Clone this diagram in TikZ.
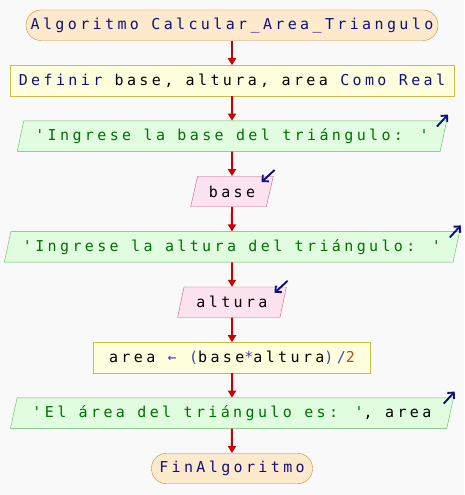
\documentclass[tikz,border=0pt]{standalone}
\usepackage{fontspec}
\newfontfamily\flowfont[LetterSpace=22.5]{DejaVu Sans Mono}
\usepackage{xcolor}
\definecolor{BgGray}{RGB}{249,249,249}
\definecolor{TermFill}{RGB}{253,234,204}
\definecolor{TermLine}{RGB}{200,136,48}
\definecolor{ProcFill}{RGB}{255,255,221}
\definecolor{ProcLine}{RGB}{200,192,64}
\definecolor{OutFill}{RGB}{224,253,224}
\definecolor{OutLine}{RGB}{92,184,92}
\definecolor{InFill}{RGB}{253,226,239}
\definecolor{InLine}{RGB}{192,96,136}
\definecolor{FlowRed}{RGB}{204,0,0}
\definecolor{KwBlue}{RGB}{16,16,128}
\definecolor{StrGreen}{RGB}{0,112,0}
\definecolor{OpBlue}{RGB}{64,64,192}
\definecolor{NumBrown}{RGB}{168,84,40}
\usetikzlibrary{positioning}
\usetikzlibrary{shapes.geometric}
\usetikzlibrary{arrows.meta}

\newcommand{\kw}[1]{\textcolor{KwBlue}{#1}}
\newcommand{\lit}[1]{\textcolor{StrGreen}{#1}}
\newcommand{\op}[1]{\textcolor{OpBlue}{#1}}
\newcommand{\nm}[1]{\textcolor{NumBrown}{#1}}

\begin{document}
\begin{tikzpicture}[
      , x=1pt, y=1pt
      , font=\flowfont\fontsize{15}{18}\selectfont
      , block/.style={draw, thin, minimum height=30.5pt, inner sep=0pt}
      , terminal/.style={block, rectangle, rounded corners=15pt, fill=TermFill, draw=TermLine}
      , process/.style={block, rectangle, fill=ProcFill, draw=ProcLine}
      , iobox/.style={block, trapezium, trapezium left angle=68, trapezium right angle=112, trapezium stretches=true}
      , outbox/.style={iobox, fill=OutFill, draw=OutLine}
      , inbox/.style={iobox, fill=InFill, draw=InLine}
      , flow/.style={->, color=FlowRed, line width=2pt}
      , icon/.style={-{Straight Barb[length=4.5pt,width=9pt]}, color=KwBlue, line width=1.9pt}
      , node distance=24.5pt
      ]

      \tikzset{>={Triangle[width=8pt,length=7pt]}}

      \path[use as bounding box, fill=BgGray] (0,0) rectangle (464,-495);

      \node[terminal, minimum width=412pt] (algo-start) at (232,-25.25) {\kw{Algoritmo Calcular\_Area\_Triangulo}};
      \node[process, minimum width=444pt, below = of algo-start] (def-vars) {\kw{Definir} base, altura, area \kw{Como Real}};
      \node[outbox, minimum width=431pt, below = of def-vars] (out-base) {\lit{'Ingrese la base del triángulo: '}};
      \node[inbox, minimum width=83pt, below = of out-base] (in-base) {base};
      \node[outbox, minimum width=456pt, below = of in-base] (out-altura) {\lit{'Ingrese la altura del triángulo: '}};
      \node[inbox, minimum width=109pt, below = of out-altura] (in-altura) {altura};
      \node[process, minimum width=277pt, below = of in-altura] (calc-area) {area \op{←} \op{(}base\op{*}altura\op{)/}\nm{2}};
      \node[outbox, minimum width=444pt, below = of calc-area] (out-area) {\lit{'El área del triángulo es: '}, area};
      \node[terminal, minimum width=161pt, below = of out-area] (algo-end) {\kw{FinAlgoritmo}};

      \draw[flow] (algo-start) -- (def-vars);
      \draw[flow] (def-vars) -- (out-base);
      \draw[flow] (out-base) -- (in-base);
      \draw[flow] (in-base) -- (out-altura);
      \draw[flow] (out-altura) -- (in-altura);
      \draw[flow] (in-altura) -- (calc-area);
      \draw[flow] (calc-area) -- (out-area);
      \draw[flow] (out-area) -- (algo-end);

      % io marks
      \foreach \n in {out-base, out-altura, out-area}
        \draw[icon] ([shift={(-10,-6)}]\n.top right corner) -- ([shift={(1,6)}]\n.top right corner);
      \foreach \n in {in-base, in-altura}
        \draw[icon] ([shift={(1,6)}]\n.top right corner) -- ([shift={(-12,-6)}]\n.top right corner);
    \end{tikzpicture}
\end{document}
